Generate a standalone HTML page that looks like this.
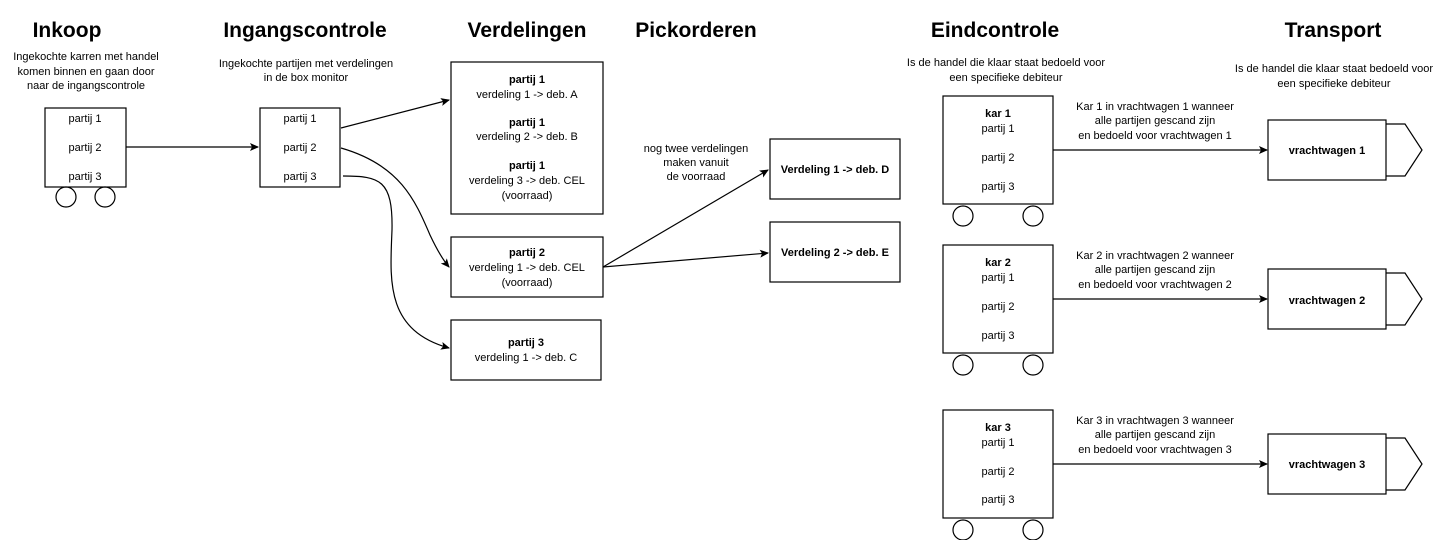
<!DOCTYPE html>
<html><head><meta charset="utf-8"><style>
html,body{margin:0;padding:0;background:#fff;}
svg text{font-family:"Liberation Sans",sans-serif;fill:#000;}
.t{font-size:21px;font-weight:bold;}
.s{font-size:11px;}
.b{font-weight:bold;}
</style></head><body>
<svg width="1448" height="540" viewBox="0 0 1448 540" xmlns="http://www.w3.org/2000/svg">
<defs><marker id="a" markerWidth="10" markerHeight="10" refX="8" refY="5" orient="auto" markerUnits="userSpaceOnUse"><path d="M0,1 L9,5 L0,9 L2,5 Z" fill="#000"/></marker></defs>
<g text-anchor="middle">
<text class="t" x="67" y="37">Inkoop</text>
<text class="t" x="305" y="37">Ingangscontrole</text>
<text class="t" x="527" y="37">Verdelingen</text>
<text class="t" x="696" y="37">Pickorderen</text>
<text class="t" x="995" y="37">Eindcontrole</text>
<text class="t" x="1333" y="37">Transport</text>
<text class="s" x="86" y="60">Ingekochte karren met handel</text>
<text class="s" x="86" y="75">komen binnen en gaan door</text>
<text class="s" x="86" y="89">naar de ingangscontrole</text>
<text class="s" x="306" y="67">Ingekochte partijen met verdelingen</text>
<text class="s" x="306" y="81">in de box monitor</text>
<text class="s" x="1006" y="66">Is de handel die klaar staat bedoeld voor</text>
<text class="s" x="1006" y="81">een specifieke debiteur</text>
<text class="s" x="1334" y="72">Is de handel die klaar staat bedoeld voor</text>
<text class="s" x="1334" y="87">een specifieke debiteur</text>
<text class="s" x="696" y="152">nog twee verdelingen</text>
<text class="s" x="696" y="166">maken vanuit</text>
<text class="s" x="696" y="180">de voorraad</text>
</g>
<g fill="none" stroke="#000" stroke-width="1.2">
<rect x="45" y="108" width="81" height="79"/>
<circle cx="66" cy="197" r="10"/><circle cx="105" cy="197" r="10"/>
<rect x="260" y="108" width="80" height="79"/>
<rect x="451" y="62" width="152" height="152"/>
<rect x="451" y="237" width="152" height="60"/>
<rect x="451" y="320" width="150" height="60"/>
<rect x="770" y="139" width="130" height="60"/>
<rect x="770" y="222" width="130" height="60"/>
<path d="M126,147 L258,147" marker-end="url(#a)"/>
<path d="M341,128 L449,100" marker-end="url(#a)"/>
<path d="M341,148 C400,165 415,200 430,235 C438,252 443,260 449,267" marker-end="url(#a)"/>
<path d="M343,176 C380,176 393,180 392,230 C390,280 385,330 449,348" marker-end="url(#a)"/>
<path d="M603,267 L768,170" marker-end="url(#a)"/>
<path d="M603,267 L768,253" marker-end="url(#a)"/>
</g>
<g text-anchor="middle" class="s">
<text class="s" x="85" y="122">partij 1</text><text class="s" x="85" y="151">partij 2</text><text class="s" x="85" y="180">partij 3</text>
<text class="s" x="300" y="122">partij 1</text><text class="s" x="300" y="151">partij 2</text><text class="s" x="300" y="180">partij 3</text>
<text class="s b" x="527" y="83">partij 1</text><text class="s" x="527" y="98">verdeling 1 -&gt;  deb. A</text>
<text class="s b" x="527" y="126">partij 1</text><text class="s" x="527" y="140">verdeling 2 -&gt; deb. B</text>
<text class="s b" x="527" y="169">partij 1</text><text class="s" x="527" y="184">verdeling 3 -&gt; deb. CEL</text><text class="s" x="527" y="199">(voorraad)</text>
<text class="s b" x="527" y="256">partij 2</text><text class="s" x="527" y="271">verdeling 1 -&gt;  deb. CEL</text><text class="s" x="527" y="286">(voorraad)</text>
<text class="s b" x="526" y="346">partij 3</text><text class="s" x="526" y="361">verdeling 1 -&gt; deb. C</text>
<text class="s b" x="835" y="173">Verdeling 1 -&gt; deb. D</text>
<text class="s b" x="835" y="256">Verdeling 2 -&gt; deb. E</text>
</g>
<g id="k1">
<rect x="943" y="96" width="110" height="108" fill="none" stroke="#000" stroke-width="1.2"/>
<circle cx="963" cy="216" r="10" fill="none" stroke="#000" stroke-width="1.2"/>
<circle cx="1033" cy="216" r="10" fill="none" stroke="#000" stroke-width="1.2"/>
<path d="M1053,150 L1267,150" stroke="#000" stroke-width="1.2" fill="none" marker-end="url(#a)"/>
<rect x="1268" y="120" width="118" height="60" fill="none" stroke="#000" stroke-width="1.2"/>
<path d="M1386,124 L1405,124 L1422,150 L1405,176 L1386,176" fill="none" stroke="#000" stroke-width="1.2"/>
</g>
<use href="#k1" y="149"/>
<use href="#k1" y="314"/>
<g text-anchor="middle">
<text class="s b" x="998" y="117">kar 1</text><text class="s" x="998" y="132">partij 1</text><text class="s" x="998" y="161">partij 2</text><text class="s" x="998" y="190">partij 3</text>
<text class="s" x="1155" y="110">Kar 1 in vrachtwagen 1 wanneer</text><text class="s" x="1155" y="124">alle partijen gescand zijn</text><text class="s" x="1155" y="139">en bedoeld voor vrachtwagen 1</text>
<text class="s b" x="1327" y="154">vrachtwagen 1</text>
<text class="s b" x="998" y="266">kar 2</text><text class="s" x="998" y="281">partij 1</text><text class="s" x="998" y="310">partij 2</text><text class="s" x="998" y="339">partij 3</text>
<text class="s" x="1155" y="259">Kar 2 in vrachtwagen 2 wanneer</text><text class="s" x="1155" y="273">alle partijen gescand zijn</text><text class="s" x="1155" y="288">en bedoeld voor vrachtwagen 2</text>
<text class="s b" x="1327" y="304">vrachtwagen 2</text>
<text class="s b" x="998" y="431">kar 3</text><text class="s" x="998" y="446">partij 1</text><text class="s" x="998" y="475">partij 2</text><text class="s" x="998" y="503">partij 3</text>
<text class="s" x="1155" y="424">Kar 3 in vrachtwagen 3 wanneer</text><text class="s" x="1155" y="438">alle partijen gescand zijn</text><text class="s" x="1155" y="453">en bedoeld voor vrachtwagen 3</text>
<text class="s b" x="1327" y="468">vrachtwagen 3</text>
</g>
</svg>
</body></html>
